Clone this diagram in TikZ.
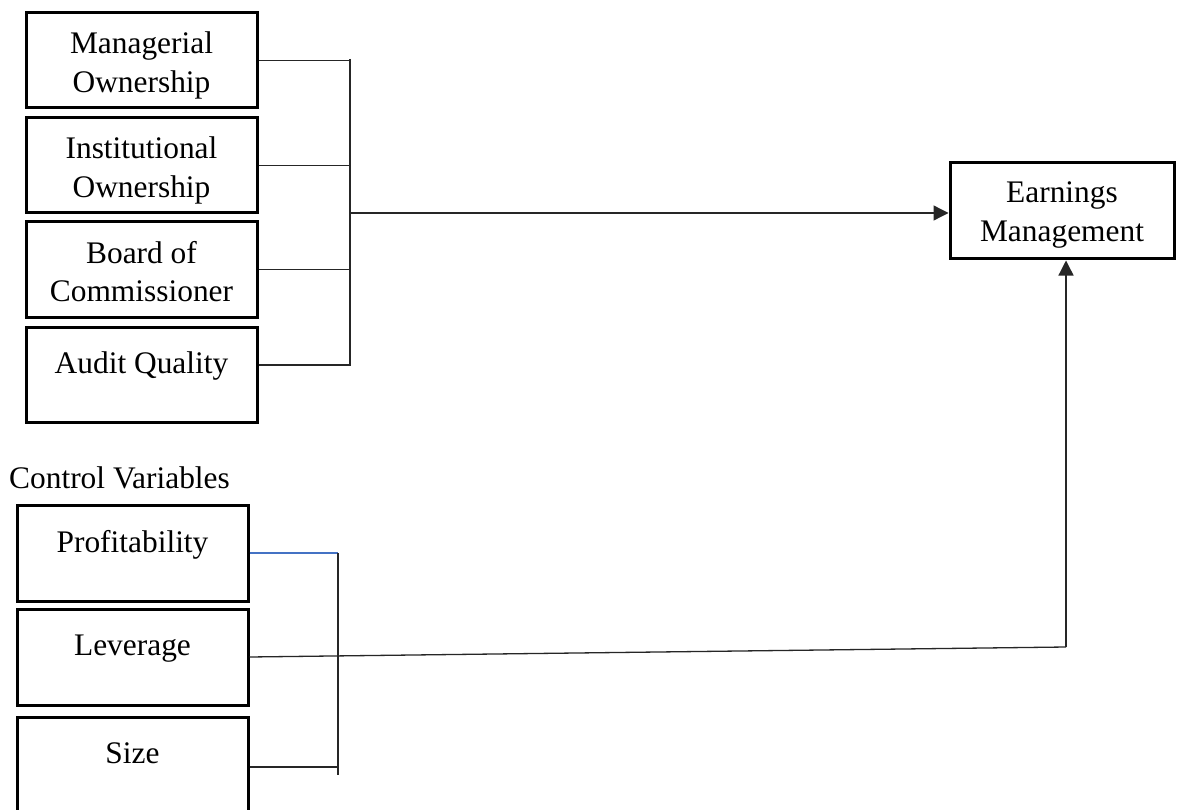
\documentclass[tikz,border=0pt]{standalone}
\usepackage{fontspec}
\setmainfont{Liberation Serif}
\usetikzlibrary{arrows.meta}
\definecolor{bluelink}{HTML}{4472C4}
\newcommand{\vtext}[2]{\raisebox{#1}[0pt][0pt]{\begin{tabular}[t]{@{}c@{}}#2\end{tabular}}}
\tikzset{
  varbox/.style={draw, line width=3pt, minimum width=231pt, minimum height=95pt,
    align=center, inner sep=0pt, font=\fontsize{31.4}{38.8}\selectfont},
  conn/.style={line width=1.3pt, draw=black!85},
  arr/.style={conn, -{Triangle[length=15pt,width=15pt]}}
}
\begin{document}
\begin{tikzpicture}[x=1pt,y=-1pt]
\clip (0,0) rectangle (1177,810);
\fill[white] (0,0) rectangle (1177,810);
% independent variables
\node[varbox] (mo) at (141.5,60.5) {\vtext{6.5pt}{Managerial\\Ownership}};
\node[varbox] (io) at (141.5,165.5) {\vtext{6.5pt}{Institutional\\Ownership}};
\node[varbox] (bc) at (141.5,269.5) {\vtext{6.5pt}{Board of\\Commissioner}};
\node[varbox] (aq) at (141.5,375) {\vtext{2pt}{Audit Quality}};
% dependent
\node[varbox, minimum width=224pt, minimum height=96pt] (em) at (1062,211) {\vtext{8pt}{Earnings\\Management}};
% control variables
\node[anchor=base west, inner sep=0pt, font=\fontsize{31.4}{38.5}\selectfont] (cv) at (9,488) {Control Variables};
\node[varbox, minimum height=96pt] (pr) at (132.5,553) {\vtext{1pt}{Profitability}};
\node[varbox, minimum height=96pt] (lv) at (132.5,657) {\vtext{2pt}{Leverage}};
\node[varbox, minimum height=96pt] (sz) at (132.5,765) {\vtext{2pt}{Size}};
% bus coordinates
\coordinate (bt) at (350,59);
\coordinate (bb) at (350,366);
\coordinate (bm) at (350,213);
\coordinate (ct) at (338,553);
\coordinate (cb) at (338,775);
\coordinate (lvend) at (1066,647);
% top bus
\draw[conn] (mo.east) -- (mo.east -| bt);
\draw[conn] (io.east) -- (io.east -| bt);
\draw[conn] (bc.east) -- (bc.east -| bt);
\draw[conn] ([yshift=10pt]aq.east) -- ([yshift=10pt]aq.east -| bt);
\draw[conn] (bt) -- (bb);
\draw[arr] (bm) -- (em.west |- bm);
% control bus
\draw[line width=1.3pt, draw=bluelink] (pr.east) -- (ct);
\draw[conn] (ct) -- (cb);
\draw[conn] ([yshift=-2pt]sz.east) -- ([yshift=-2pt]sz.east -| ct);
\draw[conn] (lv.east) -- (lvend);
\draw[arr] (lvend) -- (lvend |- em.south);
\end{tikzpicture}
\end{document}
